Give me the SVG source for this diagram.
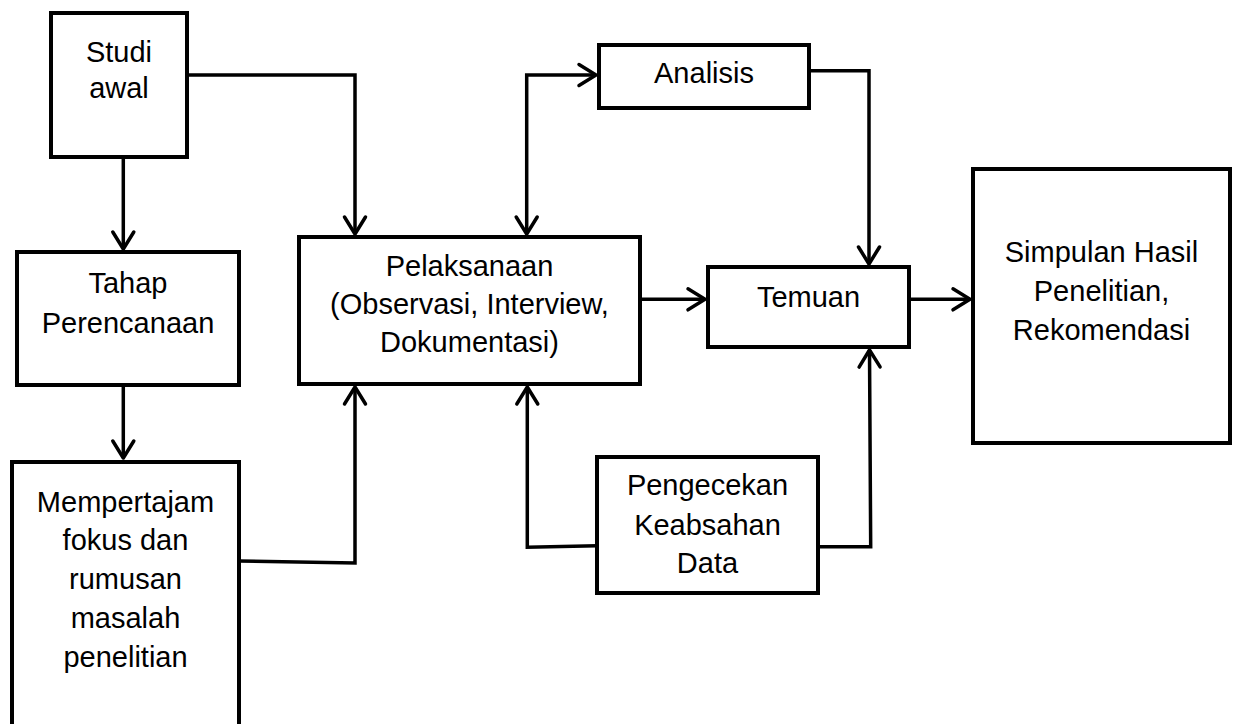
<svg xmlns="http://www.w3.org/2000/svg" width="1237" height="724" viewBox="0 0 1237 724">
<style>
.box{fill:#fff;stroke:#000;stroke-width:4;stroke-linejoin:miter}
.lbl{font-family:"Liberation Sans",Arial,sans-serif;font-size:29px;fill:#000;text-anchor:middle}
.con{fill:none;stroke:#000;stroke-width:3.5;stroke-linejoin:miter;stroke-linecap:butt}
</style>
<defs>
<marker id="arr" markerUnits="userSpaceOnUse" viewBox="-22 -14 26 28" markerWidth="26" markerHeight="28" refX="0" refY="0" orient="auto-start-reverse">
<path d="M-17,-10.5 L0,0 L-17,10.5" fill="none" stroke="#000" stroke-width="3.5" stroke-linejoin="round" stroke-linecap="round"/>
</marker>
</defs>
<rect width="1237" height="724" fill="#fff"/>
<g id="connectors">
<path class="con" d="M123.3,157 L123.3,249" marker-end="url(#arr)"/>
<path class="con" d="M123.3,385 L123.3,458" marker-end="url(#arr)"/>
<path class="con" d="M187,75 L355,75 L355,234" marker-end="url(#arr)"/>
<path class="con" d="M239,561 L355,563 L355,387" marker-end="url(#arr)"/>
<path class="con" d="M526.7,234 L526.7,75 L596,75" marker-start="url(#arr)" marker-end="url(#arr)"/>
<path class="con" d="M809,70.7 L869,70.7 L869,264" marker-end="url(#arr)"/>
<path class="con" d="M640,299.3 L705,299.3" marker-end="url(#arr)"/>
<path class="con" d="M909,299.3 L970,299.3" marker-end="url(#arr)"/>
<path class="con" d="M597,545.7 L527.3,547.3 L527.3,387" marker-end="url(#arr)"/>
<path class="con" d="M818,546.7 L870.7,546.7 L869.5,350" marker-end="url(#arr)"/>
</g>
<g id="studi-awal">
<rect class="box" x="51" y="13" width="136" height="144"/>
<text class="lbl" x="119" y="62">Studi</text>
<text class="lbl" x="119" y="98">awal</text>
</g>
<g id="tahap-perencanaan">
<rect class="box" x="17" y="252" width="222" height="133"/>
<text class="lbl" x="128" y="293">Tahap</text>
<text class="lbl" x="128" y="333">Perencanaan</text>
</g>
<g id="mempertajam">
<rect class="box" x="12" y="462" width="227" height="280"/>
<text class="lbl" x="125.5" y="512">Mempertajam</text>
<text class="lbl" x="125.5" y="550">fokus dan</text>
<text class="lbl" x="125.5" y="589">rumusan</text>
<text class="lbl" x="125.5" y="628">masalah</text>
<text class="lbl" x="125.5" y="667">penelitian</text>
</g>
<g id="pelaksanaan">
<rect class="box" x="299" y="237" width="341" height="147"/>
<text class="lbl" x="469.5" y="276">Pelaksanaan</text>
<text class="lbl" x="469.5" y="314">(Observasi, Interview,</text>
<text class="lbl" x="469.5" y="352">Dokumentasi)</text>
</g>
<g id="analisis">
<rect class="box" x="599" y="45" width="210" height="63"/>
<text class="lbl" x="704" y="83">Analisis</text>
</g>
<g id="temuan">
<rect class="box" x="708" y="267" width="201" height="80"/>
<text class="lbl" x="808.5" y="307">Temuan</text>
</g>
<g id="simpulan">
<rect class="box" x="973" y="169" width="257" height="274"/>
<text class="lbl" x="1101.5" y="262">Simpulan Hasil</text>
<text class="lbl" x="1101.5" y="301">Penelitian,</text>
<text class="lbl" x="1101.5" y="340">Rekomendasi</text>
</g>
<g id="pengecekan">
<rect class="box" x="597" y="457" width="221" height="136"/>
<text class="lbl" x="707.5" y="495">Pengecekan</text>
<text class="lbl" x="707.5" y="535">Keabsahan</text>
<text class="lbl" x="707.5" y="573">Data</text>
</g>
</svg>
